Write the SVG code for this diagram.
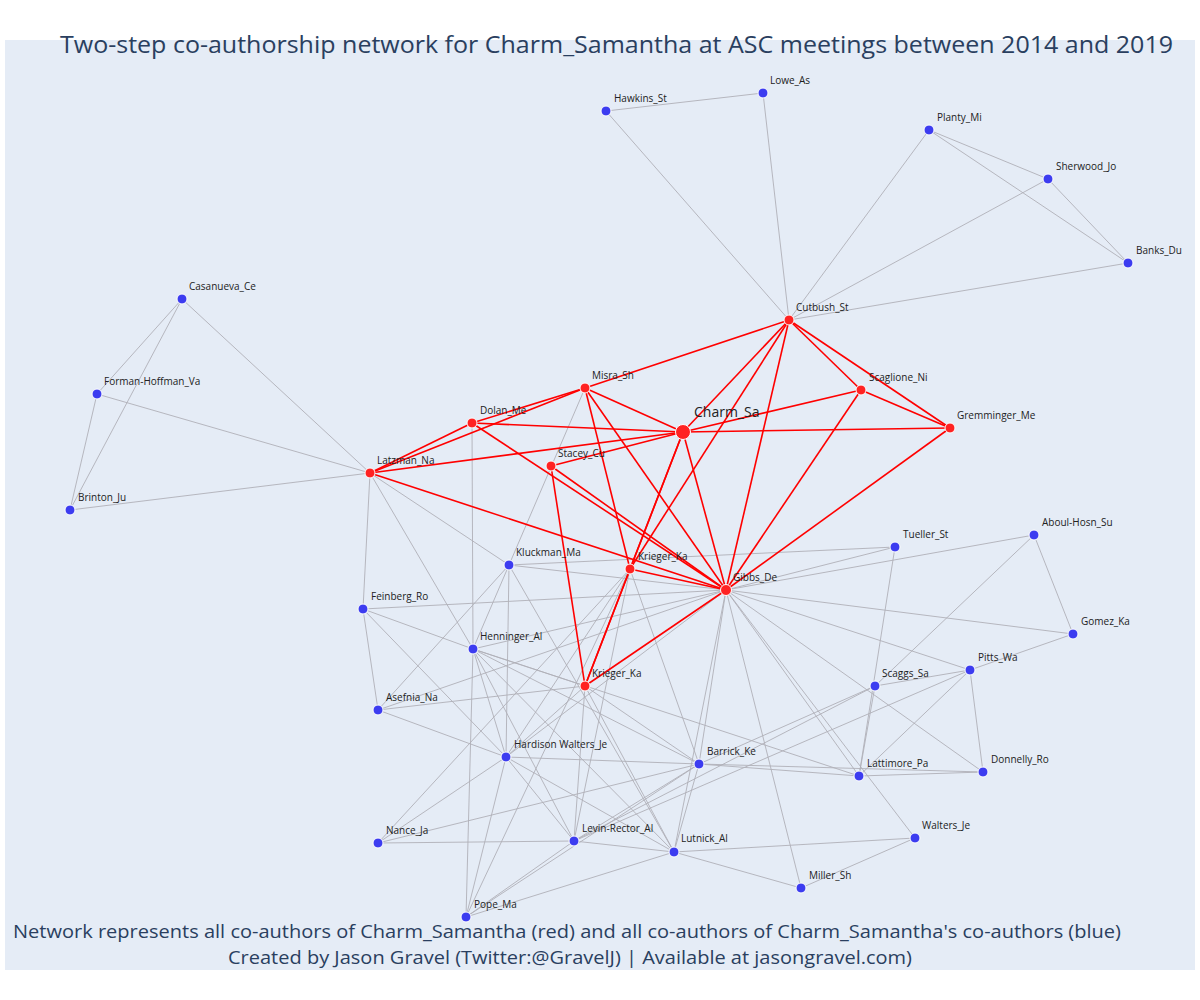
<svg xmlns="http://www.w3.org/2000/svg" width="1200" height="1000" viewBox="0 0 1200 1000">
<style>
.bg{fill:#e5ecf6}
.e{stroke:#b0b0b8;stroke-width:0.9;fill:none}
.r{stroke:#ff0000;stroke-width:1.6;fill:none}
.nb{fill:#3c3cf0;stroke:#ffffff;stroke-width:1}
.nr{fill:#ff2222;stroke:#ffffff;stroke-width:1}
.lbl{font-family:"Open Sans","Noto Sans","DejaVu Sans",sans-serif;font-size:10px;fill:#222}
.big{font-size:14px}
.title{font-family:"Open Sans","Noto Sans",sans-serif;font-size:24px;fill:#2a3f5f}
.foot{font-family:"Open Sans","Noto Sans",sans-serif;font-size:19px;fill:#2a3f5f}
</style>
<rect width="1200" height="1000" fill="#ffffff"/>
<rect class="bg" x="5" y="40" width="1190" height="930"/>
<text class="title" x="60" y="53" textLength="1113" lengthAdjust="spacingAndGlyphs">Two-step co-authorship network for Charm_Samantha at ASC meetings between 2014 and 2019</text>
<g id="connectors">
<g id="gray-edges">
<line class="e" x1="606" y1="111" x2="763" y2="93"/>
<line class="e" x1="606" y1="111" x2="789" y2="320"/>
<line class="e" x1="763" y1="93" x2="789" y2="320"/>
<line class="e" x1="929" y1="130" x2="789" y2="320"/>
<line class="e" x1="929" y1="130" x2="1048" y2="179"/>
<line class="e" x1="929" y1="130" x2="1128" y2="263"/>
<line class="e" x1="1048" y1="179" x2="1128" y2="263"/>
<line class="e" x1="1048" y1="179" x2="789" y2="320"/>
<line class="e" x1="1128" y1="263" x2="789" y2="320"/>
<line class="e" x1="182" y1="299" x2="97" y2="394"/>
<line class="e" x1="182" y1="299" x2="70" y2="510"/>
<line class="e" x1="182" y1="299" x2="370" y2="473"/>
<line class="e" x1="97" y1="394" x2="370" y2="473"/>
<line class="e" x1="97" y1="394" x2="70" y2="510"/>
<line class="e" x1="70" y1="510" x2="370" y2="473"/>
<line class="e" x1="370" y1="473" x2="363" y2="609"/>
<line class="e" x1="370" y1="473" x2="509" y2="565"/>
<line class="e" x1="370" y1="473" x2="473" y2="649"/>
<line class="e" x1="585" y1="388" x2="509" y2="565"/>
<line class="e" x1="472" y1="423" x2="473" y2="649"/>
<line class="e" x1="473" y1="649" x2="466" y2="917"/>
<line class="e" x1="509" y1="565" x2="895" y2="547"/>
<line class="e" x1="509" y1="565" x2="726" y2="590"/>
<line class="e" x1="509" y1="565" x2="473" y2="649"/>
<line class="e" x1="509" y1="565" x2="506" y2="757"/>
<line class="e" x1="509" y1="565" x2="674" y2="852"/>
<line class="e" x1="509" y1="565" x2="378" y2="710"/>
<line class="e" x1="363" y1="609" x2="726" y2="590"/>
<line class="e" x1="363" y1="609" x2="473" y2="649"/>
<line class="e" x1="363" y1="609" x2="506" y2="757"/>
<line class="e" x1="363" y1="609" x2="378" y2="710"/>
<line class="e" x1="473" y1="649" x2="726" y2="590"/>
<line class="e" x1="473" y1="649" x2="585" y2="686"/>
<line class="e" x1="473" y1="649" x2="859" y2="776"/>
<line class="e" x1="473" y1="649" x2="506" y2="757"/>
<line class="e" x1="473" y1="649" x2="574" y2="841"/>
<line class="e" x1="473" y1="649" x2="674" y2="852"/>
<line class="e" x1="473" y1="649" x2="699" y2="764"/>
<line class="e" x1="378" y1="710" x2="585" y2="686"/>
<line class="e" x1="378" y1="710" x2="506" y2="757"/>
<line class="e" x1="378" y1="710" x2="726" y2="590"/>
<line class="e" x1="506" y1="757" x2="378" y2="843"/>
<line class="e" x1="506" y1="757" x2="466" y2="917"/>
<line class="e" x1="506" y1="757" x2="574" y2="841"/>
<line class="e" x1="506" y1="757" x2="674" y2="852"/>
<line class="e" x1="506" y1="757" x2="699" y2="764"/>
<line class="e" x1="506" y1="757" x2="630" y2="569"/>
<line class="e" x1="506" y1="757" x2="585" y2="686"/>
<line class="e" x1="506" y1="757" x2="726" y2="590"/>
<line class="e" x1="630" y1="569" x2="466" y2="917"/>
<line class="e" x1="630" y1="569" x2="574" y2="841"/>
<line class="e" x1="630" y1="569" x2="699" y2="764"/>
<line class="e" x1="630" y1="569" x2="378" y2="843"/>
<line class="e" x1="585" y1="686" x2="574" y2="841"/>
<line class="e" x1="585" y1="686" x2="674" y2="852"/>
<line class="e" x1="585" y1="686" x2="699" y2="764"/>
<line class="e" x1="466" y1="917" x2="574" y2="841"/>
<line class="e" x1="466" y1="917" x2="699" y2="764"/>
<line class="e" x1="466" y1="917" x2="674" y2="852"/>
<line class="e" x1="378" y1="843" x2="574" y2="841"/>
<line class="e" x1="378" y1="843" x2="699" y2="764"/>
<line class="e" x1="574" y1="841" x2="674" y2="852"/>
<line class="e" x1="574" y1="841" x2="699" y2="764"/>
<line class="e" x1="574" y1="841" x2="875" y2="686"/>
<line class="e" x1="574" y1="841" x2="970" y2="670"/>
<line class="e" x1="699" y1="764" x2="674" y2="852"/>
<line class="e" x1="699" y1="764" x2="726" y2="590"/>
<line class="e" x1="699" y1="764" x2="859" y2="776"/>
<line class="e" x1="699" y1="764" x2="983" y2="772"/>
<line class="e" x1="699" y1="764" x2="875" y2="686"/>
<line class="e" x1="674" y1="852" x2="726" y2="590"/>
<line class="e" x1="674" y1="852" x2="915" y2="838"/>
<line class="e" x1="674" y1="852" x2="801" y2="888"/>
<line class="e" x1="726" y1="590" x2="895" y2="547"/>
<line class="e" x1="726" y1="590" x2="1034" y2="535"/>
<line class="e" x1="726" y1="590" x2="1073" y2="634"/>
<line class="e" x1="726" y1="590" x2="970" y2="670"/>
<line class="e" x1="726" y1="590" x2="983" y2="772"/>
<line class="e" x1="726" y1="590" x2="859" y2="776"/>
<line class="e" x1="726" y1="590" x2="915" y2="838"/>
<line class="e" x1="726" y1="590" x2="801" y2="888"/>
<line class="e" x1="895" y1="547" x2="859" y2="776"/>
<line class="e" x1="1034" y1="535" x2="1073" y2="634"/>
<line class="e" x1="1034" y1="535" x2="875" y2="686"/>
<line class="e" x1="1073" y1="634" x2="970" y2="670"/>
<line class="e" x1="875" y1="686" x2="970" y2="670"/>
<line class="e" x1="875" y1="686" x2="859" y2="776"/>
<line class="e" x1="970" y1="670" x2="859" y2="776"/>
<line class="e" x1="970" y1="670" x2="983" y2="772"/>
<line class="e" x1="859" y1="776" x2="983" y2="772"/>
<line class="e" x1="915" y1="838" x2="801" y2="888"/>
</g>
<g id="red-edges">
<line class="r" x1="683" y1="432" x2="789" y2="320"/>
<line class="r" x1="683" y1="432" x2="585" y2="388"/>
<line class="r" x1="683" y1="432" x2="472" y2="423"/>
<line class="r" x1="683" y1="432" x2="370" y2="473"/>
<line class="r" x1="683" y1="432" x2="551" y2="466"/>
<line class="r" x1="683" y1="432" x2="861" y2="390"/>
<line class="r" x1="683" y1="432" x2="950" y2="428"/>
<line class="r" x1="683" y1="432" x2="630" y2="569"/>
<line class="r" x1="683" y1="432" x2="585" y2="686"/>
<line class="r" x1="683" y1="432" x2="726" y2="590"/>
<line class="r" x1="789" y1="320" x2="585" y2="388"/>
<line class="r" x1="789" y1="320" x2="630" y2="569"/>
<line class="r" x1="789" y1="320" x2="726" y2="590"/>
<line class="r" x1="789" y1="320" x2="861" y2="390"/>
<line class="r" x1="789" y1="320" x2="950" y2="428"/>
<line class="r" x1="861" y1="390" x2="950" y2="428"/>
<line class="r" x1="861" y1="390" x2="726" y2="590"/>
<line class="r" x1="950" y1="428" x2="726" y2="590"/>
<line class="r" x1="585" y1="388" x2="472" y2="423"/>
<line class="r" x1="585" y1="388" x2="370" y2="473"/>
<line class="r" x1="585" y1="388" x2="630" y2="569"/>
<line class="r" x1="585" y1="388" x2="726" y2="590"/>
<line class="r" x1="472" y1="423" x2="370" y2="473"/>
<line class="r" x1="472" y1="423" x2="726" y2="590"/>
<line class="r" x1="370" y1="473" x2="726" y2="590"/>
<line class="r" x1="551" y1="466" x2="726" y2="590"/>
<line class="r" x1="551" y1="466" x2="585" y2="686"/>
<line class="r" x1="630" y1="569" x2="585" y2="686"/>
<line class="r" x1="630" y1="569" x2="726" y2="590"/>
<line class="r" x1="585" y1="686" x2="726" y2="590"/>
</g>
</g>
<g id="nodes">
<g id="n-hawkins"><circle class="nb" cx="606" cy="111" r="5"/><text class="lbl" x="614" y="102">Hawkins_St</text></g>
<g id="n-lowe"><circle class="nb" cx="763" cy="93" r="5"/><text class="lbl" x="770" y="84">Lowe_As</text></g>
<g id="n-planty"><circle class="nb" cx="929" cy="130" r="5"/><text class="lbl" x="937" y="121">Planty_Mi</text></g>
<g id="n-sherwood"><circle class="nb" cx="1048" cy="179" r="5"/><text class="lbl" x="1056" y="170">Sherwood_Jo</text></g>
<g id="n-banks"><circle class="nb" cx="1128" cy="263" r="5"/><text class="lbl" x="1136" y="254">Banks_Du</text></g>
<g id="n-casanueva"><circle class="nb" cx="182" cy="299" r="5"/><text class="lbl" x="189" y="290">Casanueva_Ce</text></g>
<g id="n-forman"><circle class="nb" cx="97" cy="394" r="5"/><text class="lbl" x="104" y="385">Forman-Hoffman_Va</text></g>
<g id="n-brinton"><circle class="nb" cx="70" cy="510" r="5"/><text class="lbl" x="78" y="501">Brinton_Ju</text></g>
<g id="n-kluckman"><circle class="nb" cx="509" cy="565" r="5"/><text class="lbl" x="516" y="556">Kluckman_Ma</text></g>
<g id="n-feinberg"><circle class="nb" cx="363" cy="609" r="5"/><text class="lbl" x="371" y="600">Feinberg_Ro</text></g>
<g id="n-henninger"><circle class="nb" cx="473" cy="649" r="5"/><text class="lbl" x="480" y="640">Henninger_Al</text></g>
<g id="n-asefnia"><circle class="nb" cx="378" cy="710" r="5"/><text class="lbl" x="386" y="701">Asefnia_Na</text></g>
<g id="n-hardison"><circle class="nb" cx="506" cy="757" r="5"/><text class="lbl" x="514" y="748">Hardison Walters_Je</text></g>
<g id="n-barrick"><circle class="nb" cx="699" cy="764" r="5"/><text class="lbl" x="707" y="755">Barrick_Ke</text></g>
<g id="n-nance"><circle class="nb" cx="378" cy="843" r="5"/><text class="lbl" x="386" y="834">Nance_Ja</text></g>
<g id="n-levin"><circle class="nb" cx="574" cy="841" r="5"/><text class="lbl" x="582" y="832">Levin-Rector_Al</text></g>
<g id="n-lutnick"><circle class="nb" cx="674" cy="852" r="5"/><text class="lbl" x="681" y="842">Lutnick_Al</text></g>
<g id="n-pope"><circle class="nb" cx="466" cy="917" r="5"/><text class="lbl" x="474" y="908">Pope_Ma</text></g>
<g id="n-tueller"><circle class="nb" cx="895" cy="547" r="5"/><text class="lbl" x="903" y="538">Tueller_St</text></g>
<g id="n-aboul"><circle class="nb" cx="1034" cy="535" r="5"/><text class="lbl" x="1042" y="526">Aboul-Hosn_Su</text></g>
<g id="n-gomez"><circle class="nb" cx="1073" cy="634" r="5"/><text class="lbl" x="1081" y="625">Gomez_Ka</text></g>
<g id="n-pitts"><circle class="nb" cx="970" cy="670" r="5"/><text class="lbl" x="978" y="661">Pitts_Wa</text></g>
<g id="n-scaggs"><circle class="nb" cx="875" cy="686" r="5"/><text class="lbl" x="882" y="677">Scaggs_Sa</text></g>
<g id="n-lattimore"><circle class="nb" cx="859" cy="776" r="5"/><text class="lbl" x="867" y="767">Lattimore_Pa</text></g>
<g id="n-donnelly"><circle class="nb" cx="983" cy="772" r="5"/><text class="lbl" x="991" y="763">Donnelly_Ro</text></g>
<g id="n-walters"><circle class="nb" cx="915" cy="838" r="5"/><text class="lbl" x="922" y="829">Walters_Je</text></g>
<g id="n-miller"><circle class="nb" cx="801" cy="888" r="5"/><text class="lbl" x="809" y="879">Miller_Sh</text></g>
<g id="n-cutbush"><circle class="nr" cx="789" cy="320" r="5"/><text class="lbl" x="796" y="311">Cutbush_St</text></g>
<g id="n-misra"><circle class="nr" cx="585" cy="388" r="5"/><text class="lbl" x="592" y="379">Misra_Sh</text></g>
<g id="n-dolan"><circle class="nr" cx="472" cy="423" r="5"/><text class="lbl" x="480" y="414">Dolan_Me</text></g>
<g id="n-scaglione"><circle class="nr" cx="861" cy="390" r="5"/><text class="lbl" x="869" y="381">Scaglione_Ni</text></g>
<g id="n-gremminger"><circle class="nr" cx="950" cy="428" r="5"/><text class="lbl" x="957" y="419">Gremminger_Me</text></g>
<g id="n-latzman"><circle class="nr" cx="370" cy="473" r="5"/><text class="lbl" x="377" y="464">Latzman_Na</text></g>
<g id="n-stacey"><circle class="nr" cx="551" cy="466" r="5"/><text class="lbl" x="558" y="457">Stacey_Cu</text></g>
<g id="n-krieger1"><circle class="nr" cx="630" cy="569" r="5"/><text class="lbl" x="638" y="560">Krieger_Ka</text></g>
<g id="n-krieger2"><circle class="nr" cx="585" cy="686" r="5"/><text class="lbl" x="592" y="677">Krieger_Ka</text></g>
<g id="n-gibbs"><circle class="nr" cx="726" cy="590" r="5.5"/><text class="lbl" x="733" y="581">Gibbs_De</text></g>
<g id="n-charm"><circle class="nr" cx="683" cy="432" r="7.5"/><text class="lbl big" x="694" y="417">Charm_Sa</text></g>
</g>
<text class="foot" x="13" y="938" textLength="1108" lengthAdjust="spacingAndGlyphs">Network represents all co-authors of Charm_Samantha (red) and all co-authors of Charm_Samantha's co-authors (blue)</text>
<text class="foot" x="228" y="964" textLength="684" lengthAdjust="spacingAndGlyphs">Created by Jason Gravel (Twitter:@GravelJ) | Available at jasongravel.com)</text>
</svg>
